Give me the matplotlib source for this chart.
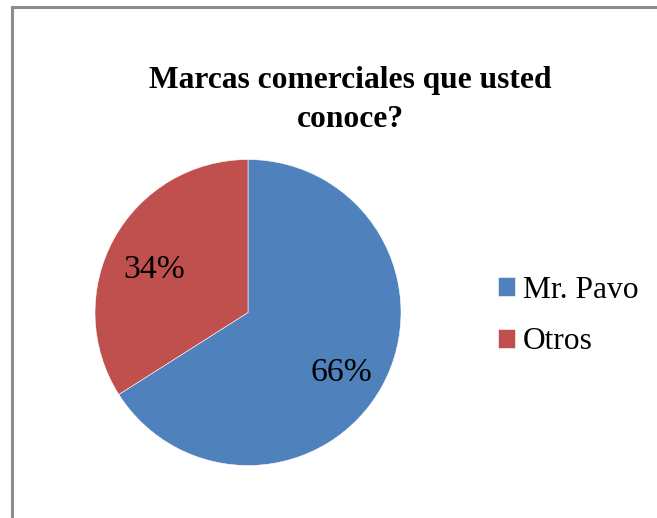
import matplotlib
matplotlib.use("Agg")
import matplotlib.pyplot as plt
from matplotlib.lines import Line2D

# data
labels = ["Mr. Pavo", "Otros"]
shares = [66, 34]
colors = ["#4F81BD", "#C0504D"]
title = "Marcas comerciales que usted\nconoce?"

plt.rcParams["font.family"] = ["Liberation Serif", "DejaVu Serif"]

fig = plt.figure(figsize=(6.57, 5.18), dpi=100, facecolor="white")

# chart frame (only left and top edge visible in the crop)
fig.add_artist(Line2D([11.5 / 657, 11.5 / 657], [0, 1 - 7 / 518],
                      transform=fig.transFigure, color="#8c8c8c", lw=2.2))
fig.add_artist(Line2D([11.5 / 657, 1], [1 - 7 / 518, 1 - 7 / 518],
                      transform=fig.transFigure, color="#8c8c8c", lw=2.2))

# title
fig.text(350 / 657, 1 - 100 / 518, title, ha="center", va="center",
         fontsize=22.7, fontweight="bold", linespacing=1.45)

# pie
ax = fig.add_axes([95 / 657, 1 - 465.5 / 518, 306 / 657, 306 / 518])
wedges, texts, autotexts = ax.pie(
    shares, colors=colors, startangle=90, counterclock=False,
    autopct="%1.0f%%", pctdistance=0.7, radius=1,
    wedgeprops=dict(edgecolor="white", linewidth=0.4),
    textprops=dict(fontsize=24.3, color="black"))
# labels sit a little lower than the wedge centroid
for t in autotexts:
    x, y = t.get_position()
    t.set_position((x, y - 0.055))
ax.set_xlim(-1, 1)
ax.set_ylim(-1, 1)
ax.set_aspect("equal")

# legend
fig.legend(wedges, labels, loc="center left",
           bbox_to_anchor=(482 / 657, 1 - 316 / 518), frameon=False,
           fontsize=22.7, handlelength=0.55, handleheight=0.55,
           handletextpad=0.25, labelspacing=0.72, borderpad=0)

fig.savefig("out.png", dpi=100, facecolor="white")
